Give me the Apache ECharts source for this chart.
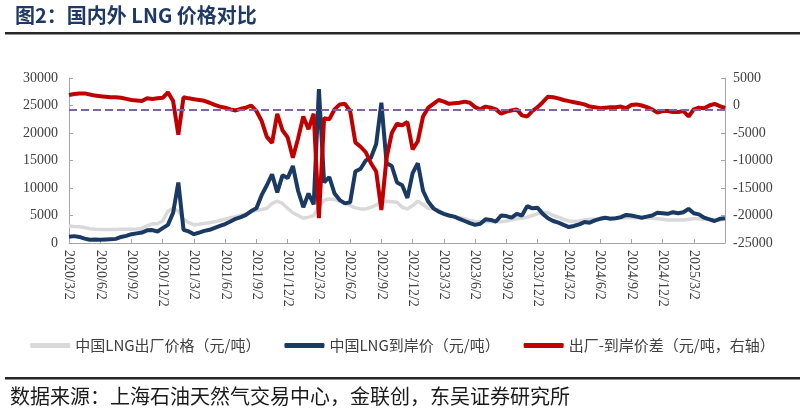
<!DOCTYPE html>
<html>
<head>
<meta charset="utf-8">
<script src="https://cdn.jsdelivr.net/npm/echarts@6/dist/echarts.min.js"></script>
<style>
html, body { margin: 0; padding: 0; background: #fff; }
#chart { width: 805px; height: 413px; }
</style>
</head>
<body>
<div id="chart"></div>
<script>
// semi-monthly dates, 2020/3/2 .. 2025/6/2
var dates = [];
for (var y = 2020; y <= 2025; y++) {
    for (var m = 1; m <= 12; m++) {
        if (y === 2020 && m < 3) continue;
        if (y === 2025 && m > 6) break;
        dates.push(y + '/' + m + '/2');
        if (!(y === 2025 && m === 6)) dates.push(y + '/' + m + '/17');
    }
}

var exFactory = [
    3100, 3000, 2950, 2800, 2600, 2500, 2450, 2450, 2450, 2450,
    2500, 2500, 2500, 2550, 2700, 3100, 3500, 3500, 4000, 5800,
    6300, 5800, 4300, 3700, 3300, 3400, 3550, 3700, 3850, 4100,
    4350, 4600, 4800, 5050, 5300, 5600, 5950, 6100, 6300, 7200,
    7600, 7200, 6300, 5500, 5000, 4500, 4700, 5000, 6500, 7800,
    8000, 7900, 7600, 7300, 6800, 6400, 6200, 6200, 6500, 6900,
    7400, 7600, 7500, 7400, 6500, 6200, 6800, 7600, 7000, 6300,
    6200, 6000, 5200, 4900, 4700, 4600, 4400, 4100, 3900, 3850,
    3850, 3850, 3850, 3850, 4000, 4200, 4400, 4500, 4700, 5000,
    5300, 5600, 5500, 5000, 4700, 4300, 4000, 3900, 4000, 4200,
    4300, 4300, 4400, 4500, 4500, 4500, 4500, 4600, 4600, 4600,
    4600, 4600, 4500, 4400, 4300, 4200, 4200, 4200, 4200, 4300,
    4400, 4400, 4300, 4300, 4200, 4200, 4300
];

var landed = [
    1150, 1250, 1100, 800, 600, 650, 600, 650, 700, 750,
    1100, 1300, 1600, 1750, 1900, 2300, 2350, 2100, 2700, 3300,
    5500, 11000, 2400, 2100, 1600, 1900, 2200, 2400, 2750, 3100,
    3450, 3900, 4400, 4700, 5100, 5800, 6300, 8700, 10500, 12500,
    9200, 12300, 11800, 14000, 9500, 6500, 9000, 7000, 28000, 11000,
    12000, 9000, 7800, 7200, 7400, 13000, 13500, 15000, 15500, 18000,
    25500, 14500, 14000, 11000, 10500, 8200, 12700, 14500, 9500, 7500,
    6300, 5700, 5300, 5000, 4800, 4400, 4000, 3600, 3300, 3500,
    4300, 4200, 3900, 5000, 4900, 4600, 5300, 5000, 6700, 6300,
    6400, 5300, 4500, 4000, 3700, 3300, 2900, 3100, 3400, 3800,
    3700, 4100, 4400, 4600, 4400, 4500, 4700, 5100, 5000, 4800,
    4600, 4800, 5000, 5500, 5400, 5300, 5600, 5400, 5600, 6200,
    5400, 5200, 4600, 4300, 4000, 4400, 4500
];

var spread = [
    1900, 2100, 2200, 2200, 2000, 1800, 1700, 1600, 1500, 1500,
    1400, 1200, 1000, 900, 800, 1300, 1200, 1300, 1400, 2400,
    800, -5300, 1500, 1300, 1150, 1000, 850, 500, 100, -200,
    -400, -700, -900, -600, -400, 0, -1000, -2800, -5700, -6800,
    -1500, -4500, -5800, -9500, -6000, -2000, -4300, -1500, -20500, -2300,
    -2500, -700, 200, 300, -1000, -6700, -7500, -8500, -10500, -12000,
    -19000, -9500, -5000, -3300, -3600, -3000, -8000, -6500, -2000, -400,
    300, 1000, 700, 300, 400, 500, 700, 500, -300, -700,
    -200, -400, -700, -1500, -1100, -900, -700, -1800, -2000, -1000,
    -300, 600, 1600, 1500, 1300, 1000, 800, 600, 400, 200,
    -200, -300, -500, -400, -300, -300, -200, -500, 100, 200,
    0, -300, -700, -1300, -1000, -1000, -1200, -1200, -1000, -2000,
    -700, -400, -500, 0, 300, -100, -500
];

var spreadLine = -700;

var serif = 'Liberation Serif';
var cjk = 'Noto Sans CJK SC';

// show a label / tick on 3/2, 6/2, 9/2, 12/2 (not on the last point)
function quarterMark(index, value) {
    if (index === dates.length - 1) return false;
    var p = String(value).split('/');
    return p[2] === '2' && (+p[1]) % 3 === 0;
}

function plain(v) { return String(v); }

var chart = echarts.init(document.getElementById('chart'));

var option = {
    animation: false,
    backgroundColor: '#fff',
    grid: { left: 69, right: 80, top: 78, bottom: 170 },
    legend: {
        top: 333,
        left: 'center',
        itemWidth: 40,
        itemHeight: 5,
        itemGap: 24,
        icon: 'roundRect',
        textStyle: { fontSize: 15, color: '#404040', fontFamily: cjk },
        data: ['中国LNG出厂价格（元/吨）', '中国LNG到岸价（元/吨）', '出厂-到岸价差（元/吨，右轴）']
    },
    xAxis: {
        type: 'category',
        data: dates,
        boundaryGap: false,
        axisLine: { lineStyle: { color: '#a6a6a6', width: 1 } },
        axisTick: { inside: true, length: 4, interval: quarterMark, lineStyle: { color: '#a6a6a6' } },
        axisLabel: {
            interval: quarterMark,
            rotate: -90,
            margin: 7,
            fontSize: 14,
            color: '#404040',
            fontFamily: serif
        },
        splitLine: { show: false }
    },
    yAxis: [
        {
            type: 'value',
            min: 0,
            max: 30000,
            interval: 5000,
            axisLine: { show: true, lineStyle: { color: '#a6a6a6' } },
            axisTick: { show: true, inside: true, length: 4, lineStyle: { color: '#a6a6a6' } },
            axisLabel: { fontSize: 14, color: '#404040', fontFamily: serif, margin: 11, formatter: plain },
            splitLine: { show: false }
        },
        {
            type: 'value',
            min: -25000,
            max: 5000,
            interval: 5000,
            position: 'right',
            axisLine: { show: true, lineStyle: { color: '#a6a6a6' } },
            axisTick: { show: true, inside: true, length: 4, lineStyle: { color: '#a6a6a6' } },
            axisLabel: { fontSize: 14, color: '#404040', fontFamily: serif, margin: 8, formatter: plain },
            splitLine: { show: false }
        }
    ],
    series: [
        {
            name: '中国LNG出厂价格（元/吨）',
            type: 'line',
            data: exFactory,
            showSymbol: false,
            itemStyle: { color: '#d9d9d9' },
            lineStyle: { color: '#d9d9d9', width: 3.5 }
        },
        {
            name: '中国LNG到岸价（元/吨）',
            type: 'line',
            data: landed,
            showSymbol: false,
            itemStyle: { color: '#1b3a63' },
            lineStyle: { color: '#1b3a63', width: 4 }
        },
        {
            name: '出厂-到岸价差（元/吨，右轴）',
            type: 'line',
            yAxisIndex: 1,
            data: spread,
            showSymbol: false,
            itemStyle: { color: '#c00000' },
            lineStyle: { color: '#c00000', width: 4 },
            markLine: {
                silent: true,
                symbol: ['none', 'none'],
                label: { show: false },
                lineStyle: { color: '#8064a2', type: [8, 4], width: 2 },
                data: [{ yAxis: spreadLine }]
            }
        }
    ],
    graphic: [
        {
            type: 'text',
            left: 15,
            top: 5,
            style: {
                text: '图2：国内外 LNG 价格对比',
                fontSize: 20,
                fontWeight: 'bold',
                fill: '#1f3864',
                fontFamily: cjk
            }
        },
        {
            type: 'rect',
            shape: { x: 5, y: 32, width: 795, height: 2.5 },
            style: { fill: '#262626' }
        },
        {
            type: 'rect',
            shape: { x: 5, y: 377, width: 795, height: 2.5 },
            style: { fill: '#262626' }
        },
        {
            type: 'text',
            left: 10,
            top: 386,
            style: {
                text: '数据来源：上海石油天然气交易中心，金联创，东吴证券研究所',
                fontSize: 20,
                fill: '#1a1a1a',
                fontFamily: cjk
            }
        }
    ]
};

chart.setOption(option);
</script>
</body>
</html>
